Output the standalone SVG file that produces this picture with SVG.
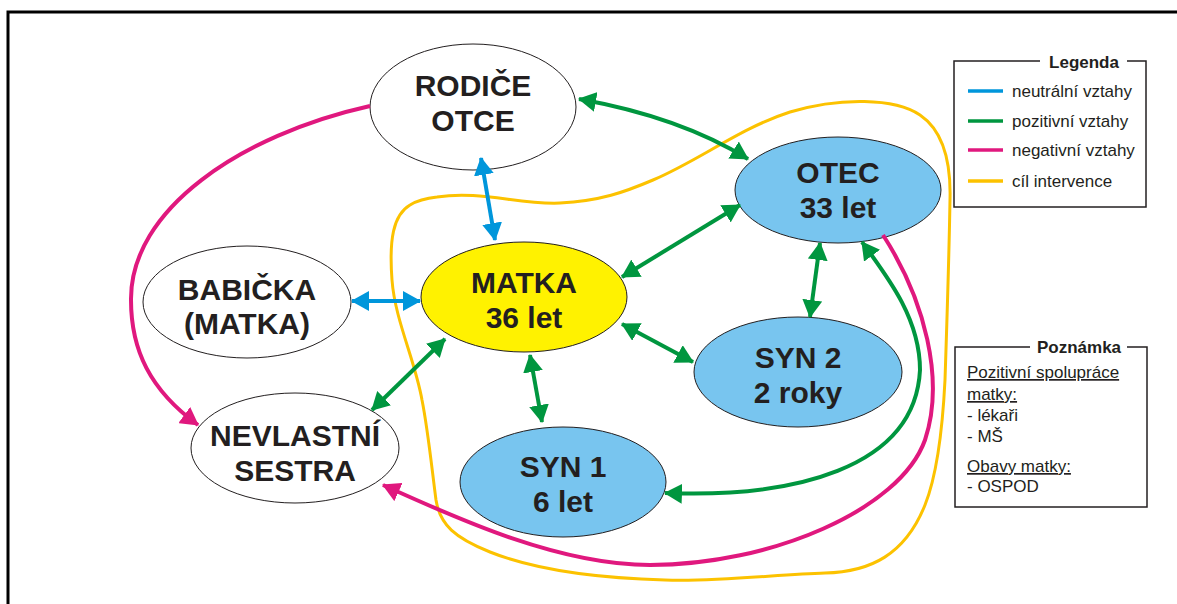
<svg xmlns="http://www.w3.org/2000/svg" width="1177" height="604" viewBox="0 0 1177 604">
<style>
.node{stroke:#231f20;stroke-width:1}
.plain{fill:#ffffff}
.blue{fill:#78c5ef}
.yel{fill:#fff200}
.lbl{font-family:"Liberation Sans",Arial,sans-serif;font-weight:bold;font-size:30px;fill:#231f20;text-anchor:middle}
.leg{font-family:"Liberation Sans",Arial,sans-serif;font-size:17px;fill:#231f20}
.legt{font-family:"Liberation Sans",Arial,sans-serif;font-weight:bold;font-size:17px;fill:#231f20;text-anchor:middle}
.c{fill:none;stroke-width:4}
.cb{stroke:#0096db}
.cg{stroke:#00963f}
.cp{stroke:#e0187e}
.cy{fill:none;stroke:#fcc200;stroke-width:3}
.box{fill:#ffffff;stroke:#231f20;stroke-width:1.5}
</style>
<defs>
<marker id="ab" markerUnits="userSpaceOnUse" markerWidth="18" markerHeight="20" viewBox="0 0 18 20" refX="17" refY="10" orient="auto-start-reverse"><path d="M0,0 L18,10 L0,20 Z" fill="#0096db"/></marker>
<marker id="ag" markerUnits="userSpaceOnUse" markerWidth="18" markerHeight="20" viewBox="0 0 18 20" refX="17" refY="10" orient="auto-start-reverse"><path d="M0,0 L18,10 L0,20 Z" fill="#00963f"/></marker>
<marker id="ap" markerUnits="userSpaceOnUse" markerWidth="18" markerHeight="20" viewBox="0 0 18 20" refX="17" refY="10" orient="auto-start-reverse"><path d="M0,0 L18,10 L0,20 Z" fill="#e0187e"/></marker>
</defs>
<rect width="1177" height="604" fill="#ffffff"/>
<path d="M8,620 L8,12 L1190,12" fill="none" stroke="#000" stroke-width="3"/>

<g id="node-rodice">
<ellipse class="node plain" cx="473" cy="107" rx="103" ry="63"/>
<text class="lbl" x="473" y="96">RODIČE</text>
<text class="lbl" x="473" y="131">OTCE</text>
</g>
<g id="node-otec">
<ellipse class="node blue" cx="838" cy="190" rx="103" ry="53"/>
<text class="lbl" x="838" y="183">OTEC</text>
<text class="lbl" x="838" y="218">33 let</text>
</g>
<g id="node-babicka">
<ellipse class="node plain" cx="247" cy="302" rx="104" ry="56"/>
<text class="lbl" x="247" y="300">BABIČKA</text>
<text class="lbl" x="247" y="334">(MATKA)</text>
</g>
<g id="node-matka">
<ellipse class="node yel" cx="524" cy="297" rx="103" ry="55"/>
<text class="lbl" x="524" y="293">MATKA</text>
<text class="lbl" x="524" y="328">36 let</text>
</g>
<g id="node-syn2">
<ellipse class="node blue" cx="798" cy="372" rx="104" ry="55"/>
<text class="lbl" x="798" y="368">SYN 2</text>
<text class="lbl" x="798" y="403">2 roky</text>
</g>
<g id="node-nevlastni">
<ellipse class="node plain" cx="295" cy="448" rx="104" ry="55"/>
<text class="lbl" x="295" y="446">NEVLASTNÍ</text>
<text class="lbl" x="295" y="481">SESTRA</text>
</g>
<g id="node-syn1">
<ellipse class="node blue" cx="563" cy="482" rx="103" ry="55"/>
<text class="lbl" x="563" y="477">SYN 1</text>
<text class="lbl" x="563" y="512">6 let</text>
</g>

<g id="connectors">
<path class="cy" d="M437,197 C480,190 520,205 560,203 C600,201 625,192 653,180 C700,160 740,128 790,112 C840,97 895,98 920,115 C945,132 951,165 950,200 C949,260 947,320 945,380 C942,440 935,480 925,505 C905,555 870,572 825,573 C780,574 720,582 665,580 C590,578 530,568 490,552 C455,538 440,525 436,500 C432,470 428,430 422,400 C415,360 395,320 392,280 C389,240 393,215 410,205 C418,200 428,198 437,197 Z"/>
<path class="c cp" marker-end="url(#ap)" d="M370,106 C240,135 130,210 131,300 C131,350 150,390 198,425"/>
<path class="c cp" marker-end="url(#ap)" d="M883,235 C925,300 945,380 925,440 C900,510 770,565 650,565 C560,565 460,520 383,485"/>
<path class="c cb" marker-start="url(#ab)" marker-end="url(#ab)" d="M481,158 L495,240"/>
<path class="c cb" marker-start="url(#ab)" marker-end="url(#ab)" d="M352,301 L420,301"/>
<path class="c cg" marker-start="url(#ag)" marker-end="url(#ag)" d="M579,99 Q680,117 748,159"/>
<path class="c cg" marker-start="url(#ag)" marker-end="url(#ag)" d="M740,205 L622,277"/>
<path class="c cg" marker-start="url(#ag)" marker-end="url(#ag)" d="M820,243 L810,317"/>
<path class="c cg" marker-start="url(#ag)" marker-end="url(#ag)" d="M622,324 L693,362"/>
<path class="c cg" marker-start="url(#ag)" marker-end="url(#ag)" d="M530,355 L542,422"/>
<path class="c cg" marker-start="url(#ag)" marker-end="url(#ag)" d="M445,339 L372,410"/>
<path class="c cg" marker-start="url(#ag)" marker-end="url(#ag)" d="M665,493 C790,498 915,470 920,370 C920,320 890,280 862,242"/>
</g>

<g id="legend">
<rect class="box" x="954" y="61" width="192" height="146"/>
<rect x="1040" y="52" width="87" height="18" fill="#ffffff"/>
<text class="legt" x="1084" y="68">Legenda</text>
<line x1="968" y1="91" x2="1003" y2="91" stroke="#0096db" stroke-width="3.5"/>
<line x1="968" y1="121" x2="1003" y2="121" stroke="#00963f" stroke-width="3.5"/>
<line x1="968" y1="150" x2="1003" y2="150" stroke="#e0187e" stroke-width="3.5"/>
<line x1="968" y1="181" x2="1003" y2="181" stroke="#fcc200" stroke-width="3.5"/>
<text class="leg" x="1012" y="97">neutrální vztahy</text>
<text class="leg" x="1012" y="127">pozitivní vztahy</text>
<text class="leg" x="1012" y="156">negativní vztahy</text>
<text class="leg" x="1012" y="187">cíl intervence</text>
</g>

<g id="note">
<rect class="box" x="955" y="347" width="192" height="160"/>
<rect x="1030" y="338" width="97" height="18" fill="#ffffff"/>
<text class="legt" x="1079" y="353">Poznámka</text>
<text class="leg" x="967" y="378" text-decoration="underline">Pozitivní spolupráce</text>
<text class="leg" x="967" y="400" text-decoration="underline">matky:</text>
<text class="leg" x="967" y="421">- lékaři</text>
<text class="leg" x="967" y="442">- MŠ</text>
<text class="leg" x="967" y="472" text-decoration="underline">Obavy matky:</text>
<text class="leg" x="967" y="492">- OSPOD</text>
</g>
</svg>
